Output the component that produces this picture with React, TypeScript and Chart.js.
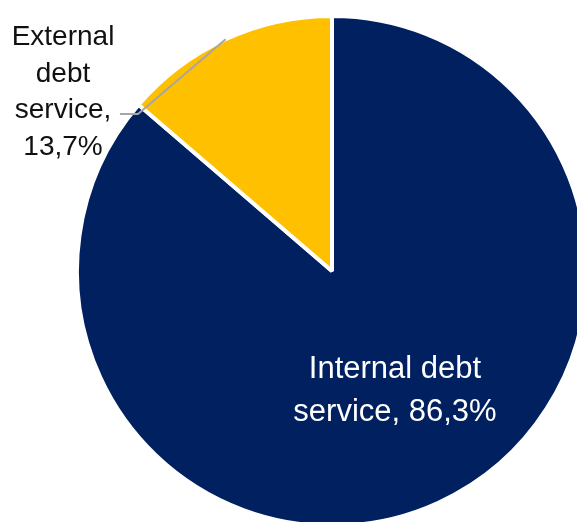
import React, { useEffect, useRef } from "react";
import { Chart, registerables } from "chart.js";

Chart.register(...registerables);

const categories = ["Internal debt service", "External debt service"];
const shares = [86.3, 13.7];
const colors = ["#002060", "#FFC000"];
// words per line for each data label
const labelWordsPerLine = [
  [2, 2],
  [1, 1, 1, 1],
];

function labelLines(i: number): string[] {
  const txt = `${categories[i]}, ${shares[i].toFixed(1).replace(".", ",")}%`;
  const words = txt.split(" ");
  const out: string[] = [];
  let k = 0;
  for (const n of labelWordsPerLine[i]) {
    out.push(words.slice(k, k + n).join(" "));
    k += n;
  }
  return out;
}

const FONT = '"Liberation Sans", Arial, sans-serif';

const labelPlugin = {
  id: "pieLabels",
  afterDraw(chart: any) {
    const meta = chart.getDatasetMeta(0);
    const ctx = chart.ctx as CanvasRenderingContext2D;
    const a0 = meta.data[0] as any;
    const cx = a0.x;
    const cy = a0.y;
    ctx.save();
    ctx.textAlign = "center";
    ctx.textBaseline = "alphabetic";

    // internal label (inside)
    ctx.fillStyle = "#ffffff";
    ctx.font = `31px ${FONT}`;
    labelLines(0).forEach((ln, j) => {
      ctx.fillText(ln, cx + 63, cy + 107 + j * 43);
    });

    // external label (outside) with leader line
    const a1 = meta.data[1] as any;
    const mid = (a1.startAngle + a1.endAngle) / 2;
    const r = a1.outerRadius;
    const mx = cx + Math.cos(mid) * r;
    const my = cy + Math.sin(mid) * r;
    ctx.strokeStyle = "#A6A6A6";
    ctx.lineWidth = 2;
    ctx.beginPath();
    ctx.moveTo(cx - 212, cy - 157);
    ctx.lineTo(cx - 194, cy - 157);
    ctx.lineTo(mx, my);
    ctx.stroke();

    ctx.fillStyle = "#111111";
    ctx.font = `28px ${FONT}`;
    labelLines(1).forEach((ln, j) => {
      ctx.fillText(ln, cx - 269, cy - 226 + j * 36.7);
    });
    ctx.restore();
  },
};

export default function App() {
  const ref = useRef<HTMLCanvasElement | null>(null);
  useEffect(() => {
    if (!ref.current) return;
    const chart = new Chart(ref.current, {
      type: "pie",
      data: {
        labels: categories,
        datasets: [
          {
            data: shares,
            backgroundColor: colors,
            borderColor: "#ffffff",
            borderWidth: 4,
            hoverOffset: 0,
            radius: 255,
          } as any,
        ],
      },
      options: {
        responsive: true,
        maintainAspectRatio: false,
        animation: false,
        rotation: 0,
        layout: { padding: { left: 78, top: 17, right: 34, bottom: 35 } },
        plugins: {
          legend: { display: false },
          tooltip: { enabled: false },
        },
      },
      plugins: [labelPlugin],
    });
    return () => chart.destroy();
  }, []);
  return (
    <div
      style={{
        position: "fixed",
        left: 0,
        top: 0,
        width: 577,
        height: 522,
        overflow: "hidden",
        background: "#ffffff",
      }}
    >
      <div style={{ position: "absolute", left: 0, top: 0, width: 620, height: 560 }}>
        <canvas ref={ref} />
      </div>
    </div>
  );
}
